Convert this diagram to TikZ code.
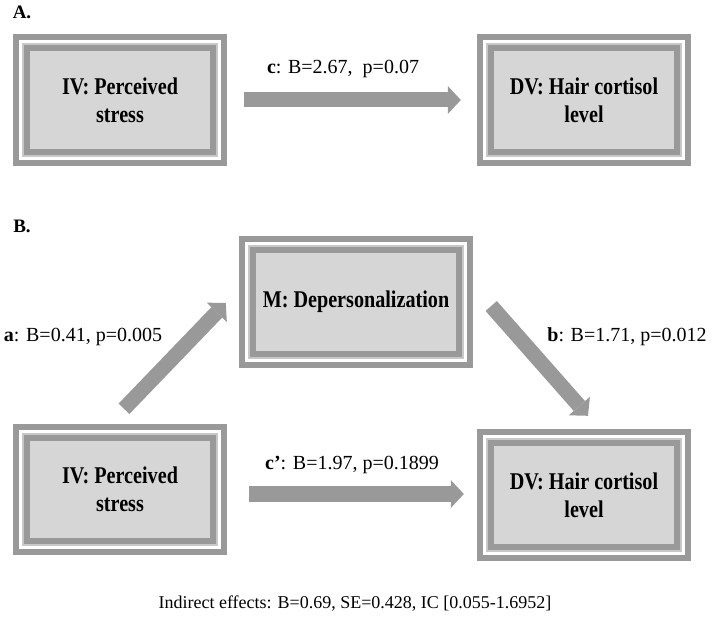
\documentclass[tikz,border=0pt]{standalone}
\usepackage{fontspec}
\setmainfont{Liberation Serif}
\newfontfamily\boxfont[FakeStretch=0.84]{Liberation Serif}
\usetikzlibrary{arrows.meta}
\definecolor{band}{RGB}{153,153,153}
\definecolor{boxfill}{RGB}{214,214,214}
\definecolor{lightline}{RGB}{200,200,200}
\tikzset{
  varbox/.style={inner sep=0pt, align=center, fill=white,
    font=\boxfont\bfseries\fontsize{24}{28}\selectfont,
    path picture={
      \coordinate (sw) at (path picture bounding box.south west);
      \coordinate (ne) at (path picture bounding box.north east);
      \draw[band, line width=6pt] ([shift={(3pt,3pt)}]sw) rectangle ([shift={(-3pt,-3pt)}]ne);
      \fill[lightline] ([shift={(9pt,9pt)}]sw) rectangle ([shift={(-9pt,-9pt)}]ne);
      \fill[boxfill] ([shift={(11pt,11pt)}]sw) rectangle ([shift={(-11pt,-11pt)}]ne);
      \draw[band, line width=6pt] ([shift={(14pt,14pt)}]sw) rectangle ([shift={(-14pt,-14pt)}]ne);
    }},
  bigarrow/.style={draw=band, line width=15pt,
    -{Triangle[width=28pt, length=13pt, line width=0pt]}},
  efflabel/.style={inner sep=0pt, font=\fontsize{20}{24}\selectfont},
  partlabel/.style={inner sep=0pt, font=\bfseries\fontsize{19}{22}\selectfont},
  notelabel/.style={inner sep=0pt, font=\fontsize{18}{22}\selectfont}
}
\begin{document}
\begin{tikzpicture}[x=1pt, y=1pt]
\useasboundingbox (0,0) rectangle (714,629);

% Part A
\node[partlabel] (pa) at (22,617) {A.};
\node[varbox, minimum width=214pt, minimum height=132pt] (aiv) at (120,529) {IV: Perceived\\stress};
\node[varbox, minimum width=214pt, minimum height=132pt] (adv) at (584,529) {DV: Hair cortisol\\level};
\draw[bigarrow, shorten <=17pt, shorten >=16pt] (aiv) -- (adv);
\node[efflabel] (lc) at (343,560) {\textbf{c}: B=2.67,\ \ p=0.07};

% Part B
\node[partlabel] (pb) at (22,403) {B.};
\node[varbox, minimum width=234pt, minimum height=132pt] (m) at (356,327) {M: Depersonalization};
\node[varbox, minimum width=214pt, minimum height=131pt] (biv) at (120,139.5) {IV: Perceived\\stress};
\node[varbox, minimum width=214pt, minimum height=132pt] (bdv) at (584,134) {DV: Hair cortisol\\level};

\draw[bigarrow] ([shift={(4pt,15pt)}]biv.north) -- ([shift={(-13pt,-1pt)}]m.west);
\draw[bigarrow] ([shift={(18pt,-4pt)}]m.east) -- ([shift={(4pt,13pt)}]bdv.north);
\draw[bigarrow] ([shift={(22pt,-4.5pt)}]biv.east) -- ([shift={(-13pt,1pt)}]bdv.west);

\node[efflabel] (la) at (83,292) {\textbf{a}: B=0.41, p=0.005};
\node[efflabel] (lb) at (627,292) {\textbf{b}: B=1.71, p=0.012};
\node[efflabel] (lcp) at (352,164) {\textbf{c’}: B=1.97, p=0.1899};

\node[notelabel] (ind) at (355,25) {Indirect effects: B=0.69, SE=0.428, IC [0.055-1.6952]};
\end{tikzpicture}
\end{document}
